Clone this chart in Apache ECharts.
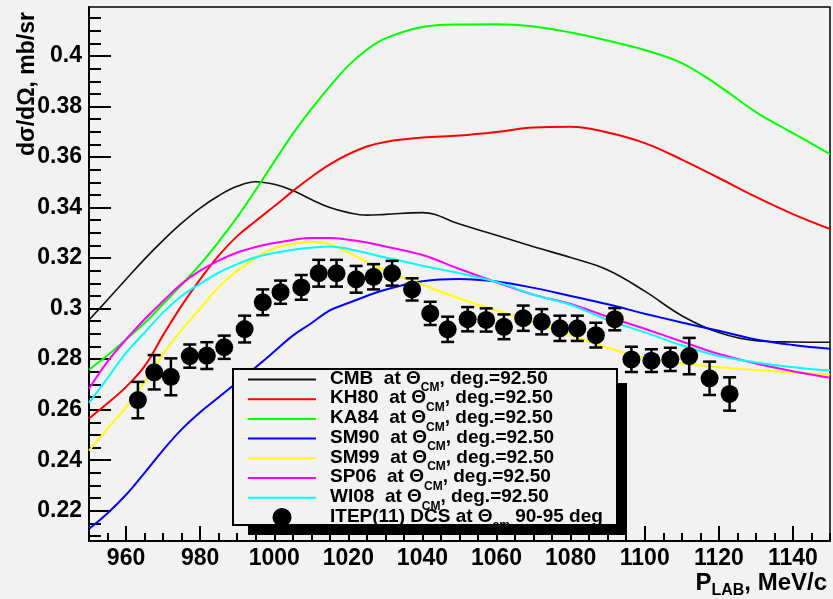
<!DOCTYPE html>
<html><head><meta charset="utf-8">
<script src="https://cdn.jsdelivr.net/npm/echarts@6/dist/echarts.min.js"></script>
<style>html,body{margin:0;padding:0;background:#f2f2f2}#c{width:833px;height:599px}</style>
</head><body><div id="c"></div>
<script>
// ---- data ----
const xMajorTicks = [960, 980, 1000, 1020, 1040, 1060, 1080, 1100, 1120, 1140];
const yMajorTicks = [0.22, 0.24, 0.26, 0.28, 0.3, 0.32, 0.34, 0.36, 0.38, 0.4];
const energy = [950,955,960,965,970,975,980,985,990,995,1000,1005,1010,1015,1020,1025,1030,
                1040,1050,1060,1070,1080,1090,1100,1110,1120,1130,1140,1150];
const cmb  = [.2955,.3035,.3116,.3196,.3270,.3338,.3398,.3447,.3484,.3502,.3492,.3468,.3432,.3400,.3380,.3370,.3373,
              .3380,.3335,.3290,.3245,.3202,.3153,.3069,.2972,.2905,.2873,.2868,.2867];
const kh80 = [.2565,.2625,.2690,.2772,.2895,.3012,.3116,.3210,.3287,.3347,.3405,.3465,.3521,.3571,.3611,.3642,.3660,
              .3677,.3685,.3699,.3717,.3720,.3697,.3655,.3590,.3517,.3442,.3374,.3315];
const ka84 = [.2758,.2815,.2878,.2943,.3018,.3095,.3175,.3265,.3362,.3470,.3582,.3692,.3790,.3880,.3962,.4025,.4070,
              .4115,.4125,.4126,.4117,.4093,.4061,.4024,.3972,.3882,.3778,.3695,.3612];
const sm90 = [.2128,.2190,.2263,.2350,.2440,.2522,.2590,.2649,.2708,.2768,.2830,.2893,.2942,.2993,.3022,.3050,.3075,
              .3108,.3117,.3107,.3082,.3050,.3017,.2980,.2945,.2912,.2878,.2856,.2841];
const sm99 = [.2438,.2525,.2610,.2710,.2820,.2915,.3000,.3085,.3150,.3200,.3238,.3257,.3264,.3256,.3222,.3185,.3150,
              .3095,.3040,.2992,.2945,.2895,.2845,.2805,.2783,.2768,.2757,.2747,.2739];
const sp06 = [.2683,.2790,.2878,.2958,.3030,.3098,.3150,.3190,.3222,.3244,.3260,.3272,.3280,.3280,.3273,.3262,.3246,
              .3212,.3157,.3104,.3055,.3018,.2968,.2920,.2870,.2820,.2783,.2752,.2726];
const wi08 = [.2627,.2725,.2825,.2905,.2985,.3050,.3098,.3142,.3176,.3203,.3220,.3233,.3241,.3246,.3236,.3220,.3202,
              .3170,.3140,.3105,.3055,.3015,.2955,.2906,.2855,.2812,.2787,.2768,.2755];
const itepE = [963.2,967.6,972.1,977.2,981.8,986.5,992.0,996.9,1001.7,1007.3,1012.0,1016.8,1022.1,1026.8,1031.8,1037.2,
               1042.1,1046.8,1052.2,1057.2,1062.0,1067.2,1072.2,1077.1,1081.8,1086.8,1091.9,1096.4,1101.8,1106.9,1112.0,1117.5,1122.9];
const itepV = [.2638,.2748,.2730,.2812,.2814,.2847,.2919,.3025,.3065,.3084,.3140,.3140,.3116,.3126,.3140,.3076,
               .2981,.2918,.2958,.2955,.2928,.2962,.2948,.2922,.2922,.2895,.2958,.2799,.2794,.2799,.2812,.2724,.2662];
const itepErr = [.0072,.0068,.0073,.0046,.0053,.0046,.0053,.0051,.0046,.0049,.0053,.0053,.0053,.0050,.0049,.0044,
                 .0046,.0050,.0048,.0046,.0049,.0050,.0050,.0050,.0050,.0049,.0044,.0050,.0045,.0046,.0072,.0066,.0066];
const seriesNames = ['CMB','KH80','KA84','SM90','SM99','SP06','WI08'];
const seriesColors = ['#111111','#ff0000','#00ff00','#0000ff','#ffff00','#ff00ff','#00ffff'];
const seriesValues = [cmb, kh80, ka84, sm90, sm99, sp06, wi08];

// minor tick positions (axis decoration)
const xMinor = []; for (let v = 950; v <= 1150; v += 5) xMinor.push(v);
const yMinor = []; for (let k = 42; k <= 83; k++) yMinor.push(Math.round(k * 5) / 1000);

const FONT = '"Liberation Sans", Arial, sans-serif';
const chart = echarts.init(document.getElementById('c'), null, {renderer: 'canvas'});

const lineSeries = seriesNames.map((n, i) => ({
  name: n, type: 'line', smooth: 0.4, symbol: 'none', z: 2,
  lineStyle: {color: seriesColors[i], width: i === 0 ? 1.6 : 2},
  itemStyle: {color: seriesColors[i], opacity: 0},
  data: energy.map((e, j) => [e, seriesValues[i][j]])
}));

const legendText = {
  CMB: '{g| }{t|CMB  at Θ}{s|CM}{t|, deg.=92.50}',
  KH80: '{g| }{t|KH80  at Θ}{s|CM}{t|, deg.=92.50}',
  KA84: '{g| }{t|KA84  at Θ}{s|CM}{t|, deg.=92.50}',
  SM90: '{g| }{t|SM90  at Θ}{s|CM}{t|, deg.=92.50}',
  SM99: '{g| }{t|SM99  at Θ}{s|CM}{t|, deg.=92.50}',
  SP06: '{g| }{t|SP06  at Θ}{s|CM}{t|, deg.=92.50}',
  WI08: '{g| }{t|WI08  at Θ}{s|CM}{t|, deg.=92.50}',
  ITEP: '{g| }{t|ITEP(11) DCS at Θ}{s|cm}{t| 90-95 deg}'
};

const option = {
  animation: false,
  backgroundColor: '#f2f2f2',
  grid: {left: 89, top: 7, right: 3, bottom: 58, show: true, backgroundColor: '#f2f2f2',
         borderColor: '#000', borderWidth: 1.5, outerBoundsMode: 'none', containLabel: false},
  xAxis: [
    {type: 'value', min: 950, max: 1150, position: 'bottom',
     axisLine: {show: true, lineStyle: {color: '#000', width: 2}},
     axisTick: {show: true, inside: true, length: 15, customValues: xMajorTicks, lineStyle: {color: '#000', width: 2}},
     axisLabel: {show: true, customValues: xMajorTicks, margin: 6, color: '#000', fontSize: 23, fontWeight: 'bold', fontFamily: FONT,
                 formatter: v => String(v)},
     splitLine: {show: false}},
    {type: 'value', min: 950, max: 1150, position: 'bottom',
     axisLine: {show: false}, axisLabel: {show: false}, splitLine: {show: false},
     axisTick: {show: true, inside: true, length: 8, customValues: xMinor, lineStyle: {color: '#000', width: 2}}}
  ],
  yAxis: [
    {type: 'value', min: 0.208, max: 0.4194, position: 'left',
     axisLine: {show: true, lineStyle: {color: '#000', width: 2}},
     axisTick: {show: true, inside: true, length: 22, customValues: yMajorTicks, lineStyle: {color: '#000', width: 2}},
     axisLabel: {show: true, customValues: yMajorTicks, margin: 7, color: '#000', fontSize: 23, fontWeight: 'bold', fontFamily: FONT,
                 formatter: v => String(v)},
     splitLine: {show: false}},
    {type: 'value', min: 0.208, max: 0.4194, position: 'left',
     axisLine: {show: false}, axisLabel: {show: false}, splitLine: {show: false},
     axisTick: {show: true, inside: true, length: 12, customValues: yMinor, lineStyle: {color: '#000', width: 2}}}
  ],
  title: {
    text: '{p|P}{s|LAB}{p|, MeV/c}', right: 6, top: 571, padding: 0,
    textStyle: {rich: {
      p: {fontSize: 24, fontWeight: 'bold', fontFamily: FONT, color: '#000', lineHeight: 24},
      s: {fontSize: 16, fontWeight: 'bold', fontFamily: FONT, color: '#000', lineHeight: 24, height: 8, verticalAlign: 'bottom'}
    }}
  },
  legend: {
    orient: 'vertical', left: 247, top: 369, padding: 0, itemGap: -5.3,
    itemWidth: 68, itemHeight: 19, z: 4,
    data: seriesNames.map(n => ({name: n, itemStyle: {opacity: 0}})).concat([{name: 'ITEP'}]),
    formatter: name => legendText[name],
    textStyle: {fontSize: 19, fontWeight: 'bold', fontFamily: FONT, color: '#000', lineHeight: 19,
      rich: {
        g: {width: 9, fontSize: 19, lineHeight: 19},
        t: {fontSize: 19, fontWeight: 'bold', fontFamily: FONT, color: '#000', lineHeight: 19, height: 17, verticalAlign: 'top'},
        s: {fontSize: 12, fontWeight: 'bold', fontFamily: FONT, color: '#000', lineHeight: 19, height: 2, verticalAlign: 'bottom'}
      }}
  },
  graphic: [
    {type: 'rect', z: 3, shape: {x: 248, y: 383, width: 379, height: 152}, style: {fill: '#000'}},
    {type: 'rect', z: 3, shape: {x: 233, y: 369, width: 384, height: 156}, style: {fill: '#f2f2f2', stroke: '#000', lineWidth: 2}},
    {type: 'text', z: 10, x: 28, y: 12, rotation: Math.PI / 2,
     style: {text: 'dσ/dΩ, mb/sr', font: 'bold 23px "Liberation Sans", Arial, sans-serif', fill: '#000',
             align: 'right', verticalAlign: 'middle', textAlign: 'right', textVerticalAlign: 'middle'}}
  ],
  series: lineSeries.concat([
    {type: 'custom', z: 5, clip: false, silent: true,
     encode: {x: 0, y: 1},
     data: itepE.map((e, i) => [e, itepV[i], itepErr[i]]),
     renderItem: (params, api) => {
       const x = api.value(0), y = api.value(1), er = api.value(2);
       const top = api.coord([x, y + er]), bot = api.coord([x, y - er]);
       const hw = 6.5, st = {stroke: '#000', lineWidth: 2.5};
       return {type: 'group', children: [
         {type: 'line', shape: {x1: top[0], y1: top[1], x2: bot[0], y2: bot[1]}, style: st},
         {type: 'line', shape: {x1: top[0] - hw, y1: top[1], x2: top[0] + hw, y2: top[1]}, style: st},
         {type: 'line', shape: {x1: bot[0] - hw, y1: bot[1], x2: bot[0] + hw, y2: bot[1]}, style: st}
       ]};
     }},
    {name: 'ITEP', type: 'scatter', z: 6, symbol: 'circle', symbolSize: 18,
     itemStyle: {color: '#000', opacity: 1},
     data: itepE.map((e, i) => [e, itepV[i]])}
  ])
};
chart.setOption(option);
</script></body></html>
